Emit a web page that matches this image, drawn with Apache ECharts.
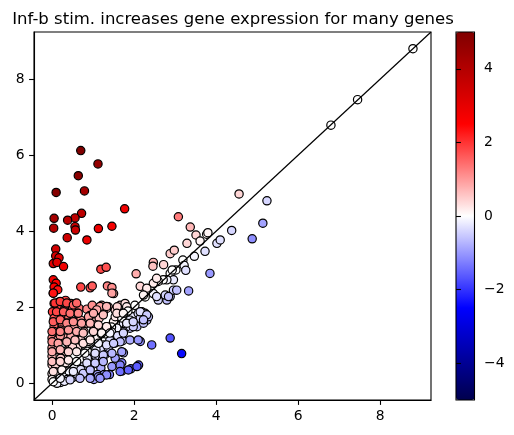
<!DOCTYPE html>
<html>
<head>
<meta charset="utf-8">
<script src="https://cdn.jsdelivr.net/npm/echarts@6/dist/echarts.min.js"></script>
<style>
  html, body { margin: 0; padding: 0; background: #fff; }
  #main { width: 514px; height: 435px; }
</style>
</head>
<body>
<div id="main"></div>
<script>
// title + axis ticks
const titleText = 'Inf-b stim. increases gene expression for many genes'
const axisTicks = [0, 2, 4, 6, 8]
const cbarTicks = [-4, -2, 0, 2, 4]
// axis limits (same on both axes)
const axisMin = -0.44
const axisMax = 9.24
// colour range of the colorbar
const cMin = -5
const cMax = 5
// seismic colormap stops
const seismic = ['#00004d', '#0000ff', '#ffffff', '#ff0000', '#800000']

// genes: [mean ctrl, mean stim, log fold change]
const genes = [
  // strongly up
  [0.70, 6.12, 5.4], [1.12, 5.77, 4.6], [0.64, 5.46, 4.8], [0.10, 5.02, 4.9], [0.79, 5.06, 4.3],
  [1.77, 4.59, 2.8], [0.05, 4.34, 4.3], [0.72, 4.47, 3.8], [0.56, 4.35, 3.8], [0.38, 4.29, 3.9],
  [0.04, 4.08, 4.0], [0.56, 4.12, 3.6], [0.57, 4.03, 3.5], [1.13, 4.07, 2.9], [1.46, 4.13, 2.7],
  [0.37, 3.83, 3.5], [0.85, 3.77, 2.9], [0.09, 3.53, 3.4], [0.09, 3.35, 3.3], [0.17, 3.30, 3.1],
  [0.03, 3.15, 3.1], [0.12, 3.18, 3.1], [0.28, 3.07, 2.8], [1.19, 3.00, 1.8], [1.32, 3.05, 1.7],
  [0.03, 2.72, 2.7], [0.10, 2.63, 2.5], [0.05, 2.53, 2.5], [0.14, 2.46, 2.3], [0.03, 2.37, 2.3],
  [0.70, 2.53, 1.8], [0.93, 2.51, 1.6], [0.98, 2.56, 1.6], [1.35, 2.56, 1.2], [1.46, 2.52, 1.1],
  [1.50, 2.36, 0.9],
  // along the diagonal, upper right
  [2.05, 2.88, 0.8], [2.47, 3.18, 0.7], [2.46, 3.08, 0.6], [2.72, 3.12, 0.4], [2.88, 3.41, 0.5],
  [2.98, 3.50, 0.5], [3.29, 3.68, 0.4], [3.08, 4.38, 1.3], [3.37, 4.11, 0.7], [3.51, 3.90, 0.4],
  [3.61, 3.74, 0.1], [3.77, 3.92, 0.1], [3.80, 3.96, 0.1], [4.56, 4.98, 0.4], [5.24, 4.80, -0.4],
  [5.14, 4.21, -0.9], [4.38, 4.02, -0.4], [4.02, 3.68, -0.3], [4.10, 3.77, -0.3], [4.88, 3.80, -1.1],
  [3.85, 2.89, -1.0], [3.73, 3.47, -0.3], [3.47, 3.34, -0.1], [3.19, 3.24, 0.0], [3.22, 3.10, -0.1],
  [3.26, 2.97, -0.3], [3.02, 2.98, 0.0], [2.88, 2.89, 0.0], [2.93, 2.98, 0.0], [2.96, 2.72, -0.2],
  [2.80, 2.72, -0.1], [2.71, 2.72, 0.0], [2.59, 2.68, 0.1], [2.47, 2.63, 0.2], [2.55, 2.76, 0.2],
  [2.15, 2.55, 0.4], [2.31, 2.50, 0.2], [2.27, 2.27, 0.0], [2.59, 2.19, -0.4], [2.47, 2.36, -0.1],
  [2.55, 2.28, -0.3], [2.80, 2.19, -0.6], [2.88, 2.28, -0.6], [2.76, 2.32, -0.4], [2.96, 2.45, -0.5],
  [3.04, 2.45, -0.6], [3.33, 2.43, -0.9], [2.84, 2.28, -0.6],
  [6.80, 6.79, 0.0], [7.45, 7.46, 0.0], [8.80, 8.80, 0.0],
  // down
  [2.15, 1.10, -1.1], [2.43, 1.01, -1.4], [2.88, 1.19, -1.7], [3.16, 0.78, -2.4], [2.11, 0.48, -1.6],
  [1.72, 1.12, -0.6], [1.41, 1.14, -0.3], [1.54, 1.06, -0.5], [1.25, 1.01, -0.2], [1.21, 0.88, -0.3],
  [1.37, 0.93, -0.4], [1.66, 1.40, -0.3], [1.90, 1.45, -0.5], [2.07, 1.49, -0.6], [1.74, 0.80, -0.9],
  [1.54, 0.66, -0.9], [1.70, 0.54, -1.2], [1.29, 0.75, -0.5], [1.92, 0.38, -1.5], [1.70, 0.32, -1.4],
  [1.40, 0.23, -1.2], [1.21, 0.19, -1.0],
  // middle
  [1.21, 2.05, 0.8], [1.37, 2.01, 0.6], [1.54, 1.92, 0.4], [1.66, 2.05, 0.4], [1.78, 2.10, 0.3],
  [1.78, 1.88, 0.1], [1.58, 1.75, 0.2], [1.50, 1.62, 0.1], [1.86, 1.66, -0.2], [1.98, 1.75, -0.2],
  [2.10, 1.84, -0.3], [2.19, 1.88, -0.3], [2.27, 1.84, -0.4], [2.15, 1.71, -0.4], [2.31, 1.66, -0.6],
  [2.35, 1.75, -0.6], [2.23, 1.58, -0.6], [1.94, 1.53, -0.4], [1.74, 1.58, -0.2], [1.82, 1.49, -0.3],
  [1.33, 1.97, 0.6], [1.59, 2.01, 0.4], [1.82, 2.01, 0.2], [1.54, 1.75, 0.2], [1.90, 1.66, -0.2],
  [1.98, 1.49, -0.5], [1.74, 1.36, -0.4], [1.90, 1.14, -0.8], [1.33, 1.49, 0.2], [1.58, 1.45, -0.1],
  [1.85, 1.90, 0.0], [2.02, 2.05, 0.0], [1.70, 1.72, 0.0], [1.45, 1.48, 0.0], [1.05, 1.08, 0.0],
  [0.85, 0.90, 0.0],
  // low ctrl, up in stim
  [0.05, 2.10, 2.0], [0.17, 2.14, 2.0], [0.33, 2.18, 1.8], [0.46, 2.10, 1.6], [0.58, 2.10, 1.5],
  [0.13, 1.97, 1.8], [0.29, 1.92, 1.6], [0.50, 1.97, 1.5], [0.66, 1.97, 1.3], [0.01, 1.88, 1.9],
  [0.37, 1.79, 1.4], [0.62, 1.84, 1.2], [0.21, 1.75, 1.5], [0.05, 1.71, 1.7], [0.09, 1.58, 1.5],
  [0.37, 1.58, 1.2], [0.54, 1.62, 1.1], [0.70, 1.66, 1.0], [0.86, 1.58, 0.7], [1.02, 1.62, 0.6],
  [1.15, 1.71, 0.6], [1.07, 1.53, 0.5], [0.85, 1.95, 1.1], [0.98, 2.05, 1.1], [1.10, 1.92, 0.8],
  [0.92, 1.78, 0.9], [1.25, 1.85, 0.6], [0.05, 1.50, 1.5], [0.25, 1.52, 1.3], [0.45, 1.45, 1.0],
  // near the origin
  [0.05, 1.36, 1.3], [0.21, 1.40, 1.2], [0.00, 1.19, 1.2], [0.13, 1.14, 1.0], [0.33, 1.19, 0.9],
  [0.54, 1.45, 0.9], [0.78, 1.36, 0.6], [1.02, 1.40, 0.4], [0.46, 1.23, 0.8], [0.70, 1.14, 0.4],
  [0.90, 1.10, 0.2], [1.11, 1.19, 0.1], [0.62, 0.93, 0.3], [0.86, 0.84, 0.0], [1.07, 0.88, -0.2],
  [0.00, 0.93, 0.9], [0.13, 0.88, 0.8], [0.33, 0.84, 0.5], [0.00, 0.71, 0.7], [0.21, 0.66, 0.5],
  [0.00, 0.49, 0.5], [0.09, 0.45, 0.4], [0.33, 0.54, 0.2], [0.86, 0.66, -0.2], [1.07, 0.71, -0.4],
  [1.23, 0.62, -0.6], [0.78, 0.45, -0.3], [0.98, 0.49, -0.5], [1.19, 0.40, -0.8], [0.90, 0.28, -0.6],
  [1.11, 0.23, -0.9], [1.27, 0.23, -1.0], [0.70, 0.19, -0.5], [1.02, 0.10, -0.9], [0.05, 0.06, 0.0],
  [0.17, 0.15, 0.0], [0.29, 0.23, -0.1], [0.41, 0.32, -0.1], [0.54, 0.41, -0.1], [0.37, 0.10, -0.3],
  [0.21, 0.02, -0.2], [0.50, 0.15, -0.4], [0.62, 0.23, -0.4], [0.70, 0.36, -0.3], [0.20, 1.25, 1.0],
  [0.40, 1.05, 0.6], [0.50, 0.95, 0.4], [0.00, 0.25, 0.2], [0.08, 0.30, 0.2], [0.00, 0.10, 0.1],
  [0.12, 0.00, -0.1], [0.30, 0.05, -0.2], [1.30, 1.30, 0.0], [1.45, 1.35, -0.1], [1.60, 1.25, -0.3],
  [1.35, 1.45, 0.1], [1.20, 1.30, 0.1],
  // dense core
  [0.03, 2.37, 2.3], [1.46, 2.37, 0.9], [2.23, 2.32, 0.1], [0.07, 2.11, 2.0], [0.20, 2.15, 1.9],
  [0.36, 2.11, 1.8], [0.52, 2.06, 1.5], [0.60, 2.11, 1.5], [1.17, 2.02, 0.9], [1.33, 2.02, 0.7],
  [1.09, 1.93, 0.8], [1.58, 1.84, 0.3], [1.74, 1.84, 0.1], [2.15, 1.88, -0.3], [2.31, 1.80, -0.5],
  [2.23, 1.67, -0.6], [0.11, 1.88, 1.8], [0.28, 1.88, 1.6], [0.44, 1.84, 1.4], [0.64, 1.84, 1.2],
  [0.89, 1.75, 0.9], [1.01, 1.84, 0.8], [1.25, 1.80, 0.6], [0.03, 1.62, 1.6], [0.20, 1.67, 1.5],
  [0.36, 1.58, 1.2], [0.52, 1.62, 1.1], [0.72, 1.58, 0.9], [0.93, 1.58, 0.7], [1.13, 1.53, 0.4],
  [1.33, 1.49, 0.2], [1.82, 1.58, -0.2], [1.98, 1.62, -0.4], [0.00, 1.36, 1.4], [0.20, 1.36, 1.2],
  [0.40, 1.40, 1.0], [0.60, 1.36, 0.8], [0.76, 1.32, 0.6], [1.01, 1.36, 0.4], [1.21, 1.32, 0.1],
  [1.41, 1.32, -0.1], [1.74, 1.32, -0.4], [2.10, 1.14, -1.0], [1.66, 1.09, -0.6], [1.70, 0.83, -0.9],
  [0.00, 1.09, 1.1], [0.15, 1.05, 0.9], [0.36, 1.09, 0.7], [0.56, 1.14, 0.6], [0.76, 1.05, 0.3],
  [0.93, 1.14, 0.2], [1.13, 1.05, -0.1], [1.33, 1.01, -0.3], [1.50, 1.05, -0.5], [0.00, 0.83, 0.8],
  [0.20, 0.88, 0.7], [0.40, 0.83, 0.4], [0.60, 0.83, 0.2], [0.80, 0.79, 0.0], [1.05, 0.79, -0.3],
  [1.25, 0.74, -0.5], [1.46, 0.79, -0.7], [0.00, 0.57, 0.6], [0.20, 0.57, 0.4], [0.40, 0.61, 0.2],
  [0.60, 0.57, 0.0], [0.85, 0.53, -0.3], [1.05, 0.53, -0.5], [1.25, 0.57, -0.7], [1.46, 0.44, -1.0],
  [1.66, 0.48, -1.2], [0.03, 0.31, 0.3], [0.24, 0.35, 0.1], [0.52, 0.31, -0.2], [0.76, 0.26, -0.5],
  [0.93, 0.35, -0.6], [1.13, 0.17, -1.0], [1.33, 0.22, -1.1], [1.66, 0.31, -1.4], [1.86, 0.35, -1.5],
  [2.07, 0.44, -1.6], [0.03, 0.04, 0.0], [0.20, 0.13, -0.1], [0.44, 0.09, -0.4], [0.68, 0.13, -0.6],
  [0.93, 0.13, -0.8], [1.17, 0.13, -1.0]
]

const font = 'DejaVu Sans'
const minus = v => (v < 0 ? '\u2212' + Math.abs(v) : String(v))

const chart = echarts.init(document.getElementById('main'))

const option = {
  animation: false,
  backgroundColor: '#fff',
  title: {
    text: titleText,
    left: 228,
    top: 6,
    textAlign: 'center',
    textStyle: { fontFamily: font, fontSize: 16.5, fontWeight: 'normal', color: '#000' }
  },
  grid: [{
    left: 34, top: 32, width: 397, height: 368,
    show: true, borderColor: '#000', borderWidth: 1.1, backgroundColor: 'transparent',
    containLabel: false
  }, {
    // colorbar frame
    left: 456, top: 32, width: 18.5, height: 368,
    show: true, borderColor: '#000', borderWidth: 1.1, backgroundColor: 'transparent',
    z: 10
  }],
  xAxis: [{
    type: 'value', gridIndex: 0, min: axisMin, max: axisMax,
    axisLine: { show: true, onZero: false, lineStyle: { color: '#000', width: 1.1 } },
    axisTick: { show: true, length: 4.9, lineStyle: { color: '#000', width: 1.1 }, customValues: axisTicks },
    axisLabel: { customValues: axisTicks, margin: 9.5, color: '#000', fontFamily: font, fontSize: 13.9 },
    splitLine: { show: false }
  }, {
    type: 'value', gridIndex: 1, show: false, min: 0, max: 1
  }],
  yAxis: [{
    type: 'value', gridIndex: 0, min: axisMin, max: axisMax,
    axisLine: { show: true, onZero: false, lineStyle: { color: '#000', width: 1.1 } },
    axisTick: { show: true, length: 4.9, lineStyle: { color: '#000', width: 1.1 }, customValues: axisTicks },
    axisLabel: { customValues: axisTicks, margin: 9.5, color: '#000', fontFamily: font, fontSize: 13.9 },
    splitLine: { show: false }
  }, {
    type: 'value', gridIndex: 1, position: 'right', min: cMin, max: cMax, z: 10,
    axisLine: { show: false },
    axisTick: { show: true, length: 4.9, lineStyle: { color: '#000', width: 1.1 }, customValues: cbarTicks },
    axisLabel: { customValues: cbarTicks, margin: 9.5, color: '#000', fontFamily: font, fontSize: 13.9, formatter: minus },
    splitLine: { show: false }
  }],
  visualMap: {
    type: 'continuous',
    min: cMin,
    max: cMax,
    dimension: 2,
    seriesIndex: 0,
    calculable: false,
    hoverLink: false,
    text: null,
    left: 456,
    top: 32,
    padding: 0,
    itemWidth: 18.5,
    itemHeight: 368,
    inRange: { color: seismic }
  },
  series: [{
    type: 'scatter',
    xAxisIndex: 0,
    yAxisIndex: 0,
    data: genes,
    symbolSize: 8.3,
    itemStyle: { borderColor: '#000', borderWidth: 1.2, opacity: 1 }
  }, {
    // y = x reference line
    type: 'line',
    xAxisIndex: 0,
    yAxisIndex: 0,
    data: [[axisMin, axisMin], [axisMax, axisMax]],
    symbol: 'none',
    z: 5,
    lineStyle: { color: '#000', width: 1.2 }
  }]
}

chart.setOption(option)
</script>
</body>
</html>
